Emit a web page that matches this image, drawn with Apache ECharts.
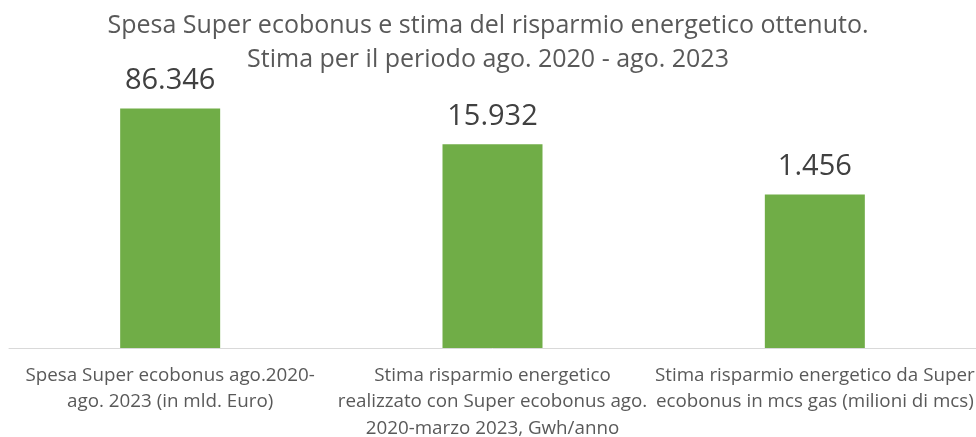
<!DOCTYPE html>
<html>
<head>
<meta charset="utf-8">
<script src="https://cdn.jsdelivr.net/npm/echarts@6/dist/echarts.min.js"></script>
<style>
  html, body { margin: 0; padding: 0; background: #fff; }
  #chart { width: 976px; height: 437px; }
</style>
</head>
<body>
<div id="chart"></div>
<script>
const categories = [
  'Spesa Super ecobonus ago.2020-\nago. 2023 (in mld. Euro)',
  'Stima risparmio energetico\nrealizzato con Super ecobonus ago.\n2020-marzo 2023, Gwh/anno',
  'Stima risparmio energetico da Super\necobonus in mcs gas (milioni di mcs)'
]
const values = [86346, 15932, 1456]

const font = '"Open Sans", sans-serif'
const fmt = v => String(v).replace(/\B(?=(\d{3})+(?!\d))/g, '.')

const chart = echarts.init(document.getElementById('chart'))
chart.setOption({
  backgroundColor: '#fff',
  animation: false,
  title: {
    text: 'Spesa Super ecobonus e stima del risparmio energetico ottenuto.\nStima per il periodo ago. 2020 - ago. 2023',
    left: 'center',
    top: 4,
    textStyle: {
      fontFamily: font,
      fontWeight: 'normal',
      fontSize: 25,
      lineHeight: 34,
      color: '#595959'
    }
  },
  grid: {
    left: 9,
    right: 0,
    top: 57,
    bottom: 89,
    containLabel: false,
    outerBoundsMode: 'none'
  },
  xAxis: {
    type: 'category',
    data: categories,
    axisTick: { show: false },
    axisLine: { lineStyle: { color: '#d9d9d9', width: 1 } },
    axisLabel: {
      interval: 0,
      margin: 14,
      fontFamily: font,
      fontSize: 18.8,
      lineHeight: 26.5,
      color: '#595959',
      align: 'center'
    }
  },
  yAxis: {
    type: 'log',
    min: 1,
    max: 1000000,
    show: false,
    splitLine: { show: false }
  },
  series: [{
    type: 'bar',
    data: values,
    barWidth: 100,
    itemStyle: { color: '#70ad47' },
    label: {
      show: true,
      position: 'top',
      distance: 13,
      formatter: p => fmt(p.value),
      fontFamily: font,
      fontSize: 29,
      color: '#404040'
    }
  }]
})
</script>
</body>
</html>
